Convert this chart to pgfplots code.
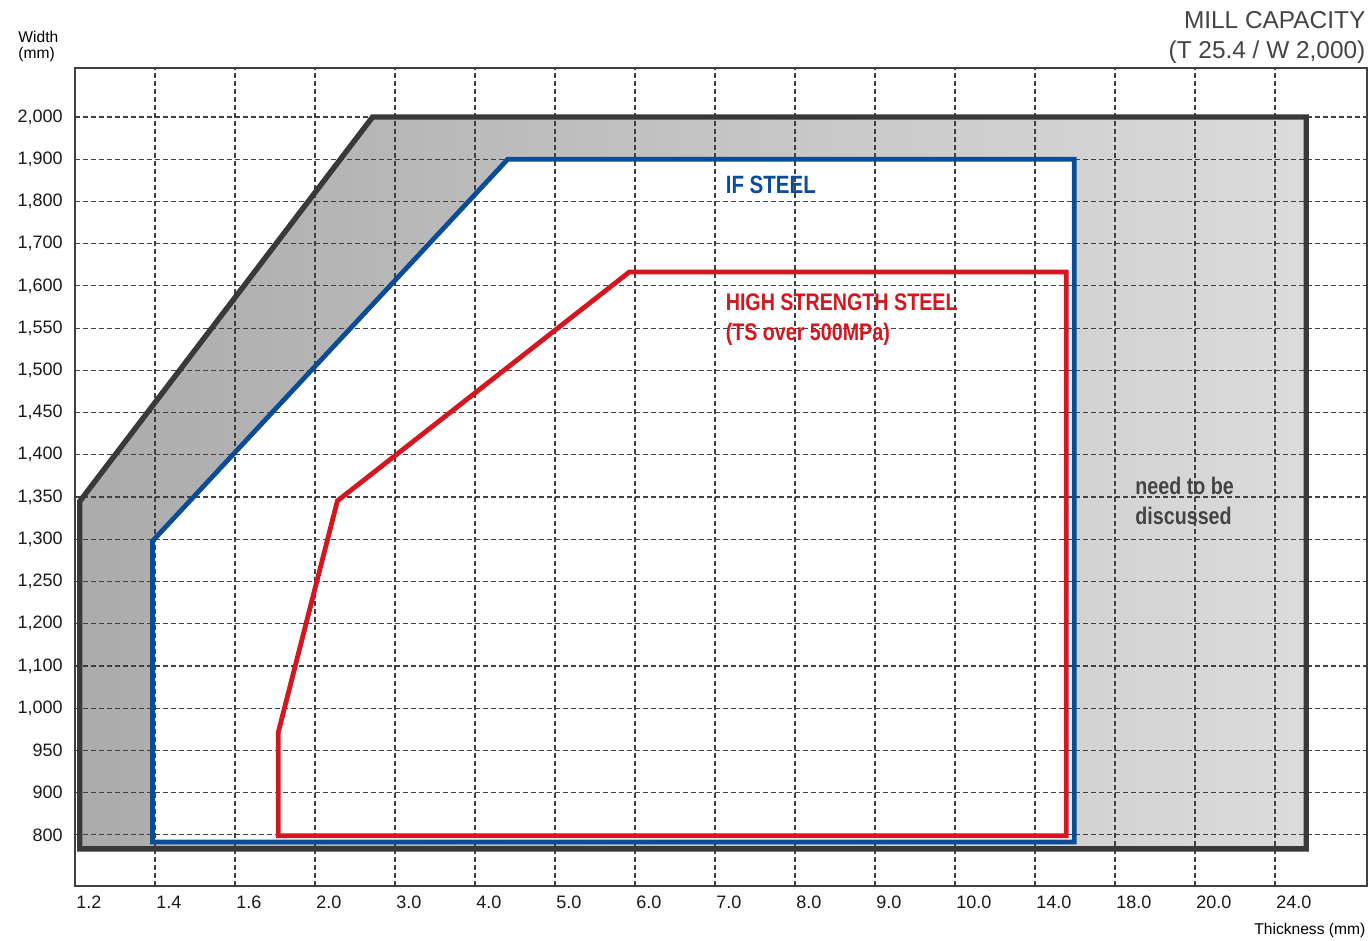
\documentclass[border=0pt]{standalone}
\usepackage{pgfplots}
\pgfplotsset{compat=1.18}
\usepackage{fontspec}
\setmainfont{Liberation Sans}
\newfontfamily\din{Liberation Sans}[FakeStretch=0.82]

\definecolor{ifblue}{HTML}{0B4C96}
\definecolor{hsred}{HTML}{D6161E}
\definecolor{outline}{HTML}{3A3838}
\definecolor{txtgray}{HTML}{444444}

% categories sit at 0,1,2,... ; values in grid units
\begin{document}
\begin{tikzpicture}
\begin{axis}[
    set layers,
    scale only axis,
    width=646pt, height=409pt,
    xmin=0, xmax=16.15,
    ymin=-1.21, ymax=18.16,
    xtick={0,...,15},
    ytick={0,...,17},
    xticklabels={1.2,1.4,1.6,2.0,3.0,4.0,5.0,6.0,7.0,8.0,9.0,10.0,14.0,18.0,20.0,24.0},
    yticklabels={{800},{900},{950},{1,000},{1,100},{1,200},{1,250},{1,300},{1,350},
                 {1,400},{1,450},{1,500},{1,550},{1,600},{1,700},{1,800},{1,900},{2,000}},
    /pgf/number format/assume math mode=true,
    major tick length=0pt,
    tick label style={font=\fontsize{9}{10}\selectfont, text=black!90, inner sep=0pt},
    xticklabel style={anchor=north west, yshift=-5pt, xshift=0.5pt},
    yticklabel style={anchor=east, xshift=-6pt},
    grid=major,
    grid style={black!75, line width=0.6pt, dash pattern=on 2.5pt off 1.5pt},
    axis line style={black!75, line width=0.6pt},
    clip=false,
]
% filled regions, under the grid
\addplot[on layer=axis background, draw=none, left color=black!33, right color=black!14]
    coordinates {(0.06,-0.33) (0.06,7.9) (3.72,17) (15.39,17) (15.39,-0.33)};
\addplot[on layer=axis background, draw=none, fill=white]
    coordinates {(0.97,-0.17) (0.97,6.96) (5.41,16.0) (12.49,16.0) (12.49,-0.17)};

% outlines
\addplot[outline, line width=2.7pt, line join=miter, mark=none]
    coordinates {(8,-0.33) (0.06,-0.33) (0.06,7.9) (3.72,17) (15.39,17) (15.39,-0.33) (8,-0.33)};
\addplot[ifblue, line width=2.4pt, line join=miter, mark=none]
    coordinates {(6,-0.17) (0.97,-0.17) (0.97,6.96) (5.41,16.0) (12.49,16.0) (12.49,-0.17) (6,-0.17)};
\addplot[hsred, line width=2.4pt, line join=miter, mark=none]
    coordinates {(6,-0.02) (2.54,-0.02) (2.54,2.42) (3.28,7.91) (6.93,13.33) (12.39,13.33) (12.39,-0.02) (6,-0.02)};

% labels inside
\node[anchor=west, inner sep=0pt, text=ifblue, font=\din\bfseries\fontsize{12.5}{14}\selectfont]
    at (axis cs:8.13,15.39) {IF STEEL};
\node[anchor=west, inner sep=0pt, text=hsred, font=\din\bfseries\fontsize{12}{14}\selectfont]
    at (axis cs:8.13,12.62) {HIGH STRENGTH STEEL};
\node[anchor=west, inner sep=0pt, text=hsred, font=\din\bfseries\fontsize{12}{14}\selectfont]
    at (axis cs:8.13,11.86) {(TS over 500MPa)};
\node[anchor=west, inner sep=0pt, text=txtgray, font=\din\bfseries\fontsize{12}{14}\selectfont]
    at (axis cs:13.25,8.26) {need to be};
\node[anchor=west, inner sep=0pt, text=txtgray, font=\din\bfseries\fontsize{12}{14}\selectfont]
    at (axis cs:13.25,7.55) {discussed};

% labels outside
\node[anchor=west, inner sep=0pt, font=\fontsize{7.8}{9}\selectfont]
    at (axis description cs:-0.0441,1.038) {Width};
\node[anchor=west, inner sep=0pt, font=\fontsize{7.8}{9}\selectfont]
    at (axis description cs:-0.0441,1.017) {(mm)};
\node[anchor=east, inner sep=0pt, text=txtgray, font=\fontsize{12.2}{14}\selectfont]
    at (axis description cs:0.999,1.0587) {MILL CAPACITY};
\node[anchor=east, inner sep=0pt, text=txtgray, font=\fontsize{12.2}{14}\selectfont]
    at (axis description cs:0.999,1.0196) {(T 25.4 / W 2,000)};
\node[anchor=east, inner sep=0pt, font=\fontsize{7.8}{9}\selectfont]
    at (axis description cs:0.999,-0.0538) {Thickness (mm)};
\end{axis}
\pgfresetboundingbox
\path[use as bounding box] (-37.5pt,-27.5pt) rectangle (648.5pt,443pt);
\end{tikzpicture}
\end{document}
